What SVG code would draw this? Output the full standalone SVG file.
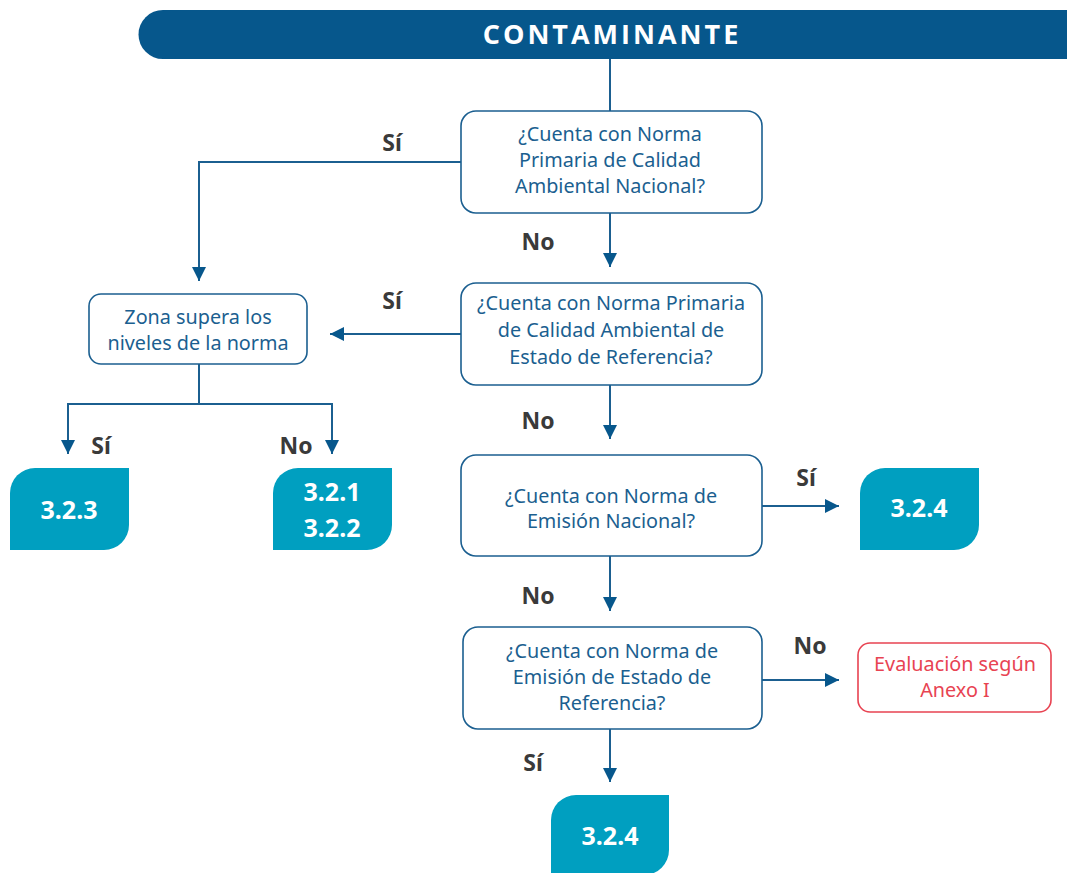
<svg xmlns="http://www.w3.org/2000/svg" width="1067" height="873" viewBox="0 0 1067 873">
<defs>
<style>
.q{fill:#fff;stroke:#1b5f90;stroke-width:1.6}
.qt{font-family:"Noto Sans","Open Sans",sans-serif;font-size:19.8px;fill:#1b5f90;text-anchor:middle}
.lbl{font-family:"Noto Sans","Open Sans",sans-serif;font-size:23px;font-weight:bold;fill:#3a3a3a;text-anchor:middle}
.teal{fill:#009fc0}
.tt{font-family:"Noto Sans","Open Sans",sans-serif;font-size:25px;font-weight:bold;fill:#fff;text-anchor:middle}
.c{fill:none;stroke:#1b5f90;stroke-width:2}
</style>
<marker id="ah" viewBox="0 0 10 10" refX="10" refY="5" markerWidth="14" markerHeight="14" orient="auto" markerUnits="userSpaceOnUse">
<path d="M0,0 L10,5 L0,10 Z" fill="#07578c"/>
</marker>
</defs>

<g id="banner">
<path d="M163,10 H1067 V59 H163 A24.5,24.5 0 0 1 163,10 Z" fill="#06578c"/>
<text x="612" y="44" font-family="'Open Sans','Noto Sans',sans-serif" font-size="27" font-weight="bold" fill="#fff" text-anchor="middle" letter-spacing="3">CONTAMINANTE</text>
</g>

<g id="connectors">
<path class="c" d="M610,59 V111"/>
<path class="c" d="M461,162 H199 V281" marker-end="url(#ah)"/>
<path class="c" d="M610,213 V267" marker-end="url(#ah)"/>
<path class="c" d="M461,334 H330" marker-end="url(#ah)"/>
<path class="c" d="M199,364 V404"/>
<path class="c" d="M199,404 H68 V454" marker-end="url(#ah)"/>
<path class="c" d="M199,404 H332 V454" marker-end="url(#ah)"/>
<path class="c" d="M610,385 V439" marker-end="url(#ah)"/>
<path class="c" d="M762,506 H839" marker-end="url(#ah)"/>
<path class="c" d="M610,556 V611" marker-end="url(#ah)"/>
<path class="c" d="M762,680 H839" marker-end="url(#ah)"/>
<path class="c" d="M610,729 V782" marker-end="url(#ah)"/>
<text class="lbl" x="392" y="151">Sí</text>
<text class="lbl" x="538" y="250">No</text>
<text class="lbl" x="392" y="309">Sí</text>
<text class="lbl" x="538" y="429">No</text>
<text class="lbl" x="101" y="454">Sí</text>
<text class="lbl" x="296" y="454">No</text>
<text class="lbl" x="806" y="486">Sí</text>
<text class="lbl" x="538" y="604">No</text>
<text class="lbl" x="810" y="654">No</text>
<text class="lbl" x="533" y="771">Sí</text>
</g>

<g id="q1">
<rect class="q" x="461" y="111" width="301" height="102" rx="15"/>
<text class="qt" x="610" y="141">¿Cuenta con Norma</text>
<text class="qt" x="610" y="167">Primaria de Calidad</text>
<text class="qt" x="610" y="193">Ambiental Nacional?</text>
</g>

<g id="q2">
<rect class="q" x="461" y="283" width="301" height="102" rx="15"/>
<text class="qt" x="611" y="310">¿Cuenta con Norma Primaria</text>
<text class="qt" x="611" y="337">de Calidad Ambiental de</text>
<text class="qt" x="611" y="364">Estado de Referencia?</text>
</g>

<g id="zona">
<rect class="q" x="89" y="294" width="218" height="70" rx="12"/>
<text class="qt" x="198" y="324">Zona supera los</text>
<text class="qt" x="198" y="350">niveles de la norma</text>
</g>

<g id="r323">
<path class="teal" d="M10,493 A25,25 0 0 1 35,468 H129 V525 A25,25 0 0 1 104,550 H10 Z"/>
<text class="tt" x="69" y="519">3.2.3</text>
</g>

<g id="r321">
<path class="teal" d="M273,493 A25,25 0 0 1 298,468 H392 V525 A25,25 0 0 1 367,550 H273 Z"/>
<text class="tt" x="332" y="501">3.2.1</text>
<text class="tt" x="332" y="537">3.2.2</text>
</g>

<g id="q3">
<rect class="q" x="461" y="455" width="301" height="101" rx="15"/>
<text class="qt" x="611" y="503">¿Cuenta con Norma de</text>
<text class="qt" x="611" y="528">Emisión Nacional?</text>
</g>

<g id="r324a">
<path class="teal" d="M860,493 A25,25 0 0 1 885,468 H979 V525 A25,25 0 0 1 954,550 H860 Z"/>
<text class="tt" x="919" y="517">3.2.4</text>
</g>

<g id="q4">
<rect class="q" x="463" y="627" width="299" height="102" rx="15"/>
<text class="qt" x="612" y="658">¿Cuenta con Norma de</text>
<text class="qt" x="612" y="684">Emisión de Estado de</text>
<text class="qt" x="612" y="710">Referencia?</text>
</g>

<g id="anexo">
<rect x="858" y="643" width="193" height="69" rx="12" fill="#fff" stroke="#e84352" stroke-width="1.6"/>
<text class="qt" x="955" y="671" style="fill:#e84352">Evaluación según</text>
<text class="qt" x="955" y="697" style="fill:#e84352">Anexo I</text>
</g>

<g id="r324b">
<path class="teal" d="M551,820 A25,25 0 0 1 576,795 H669 V850 A25,25 0 0 1 644,875 H551 Z"/>
<text class="tt" x="610" y="845">3.2.4</text>
</g>
</svg>
